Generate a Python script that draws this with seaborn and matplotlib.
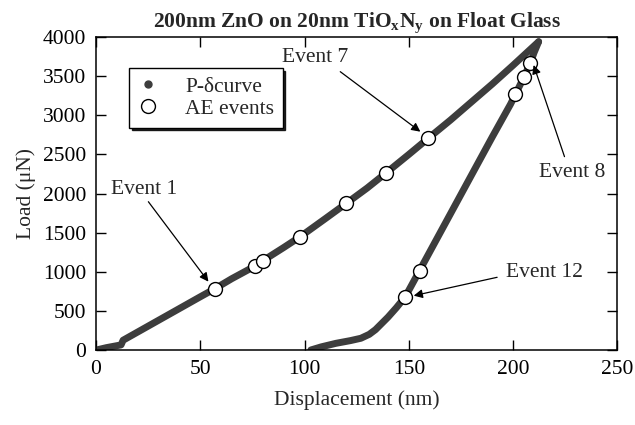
import matplotlib
matplotlib.use("Agg")
import matplotlib.pyplot as plt
from matplotlib.lines import Line2D
import seaborn as sns

# Load-displacement curve (loading branch), nm / uN
load_x = [0, 1, 5, 10, 12, 13, 20, 30, 40, 50, 57.1, 65, 76.3, 80, 90, 97.9,
          110, 120, 130, 139.2, 150, 159.4, 170, 180, 190, 200, 212.2]
load_y = [0, 5, 30, 55, 65, 125, 230, 380, 530, 680, 785, 910, 1073, 1141, 1310, 1448,
          1680, 1874, 2070, 2266, 2500, 2708, 2940, 3170, 3400, 3640, 3940]

# Unloading branch
unload_x = [212.2, 210, 208.3, 205.1, 201.1, 198.7, 190, 179.5, 170, 160, 155.1,
            148.3, 144, 140, 137, 134, 131, 127, 122, 115, 108, 103]
unload_y = [3940, 3800, 3672, 3485, 3268, 3140, 2724, 2210, 1744, 1254, 1014,
            681, 540, 420, 340, 260, 200, 150, 120, 85, 40, 0]

# Acoustic emission events
ae_x = [57.1, 76.3, 80.0, 97.9, 120.0, 139.2, 159.4, 148.3, 155.1, 201.1, 205.1, 208.3]
ae_y = [785, 1073, 1141, 1448, 1874, 2266, 2708, 681, 1014, 3268, 3485, 3672]

x_ticks = [0, 50, 100, 150, 200, 250]
y_ticks = [0, 500, 1000, 1500, 2000, 2500, 3000, 3500, 4000]

sns.set_theme(style="ticks")
plt.rcParams["font.family"] = ["Liberation Serif", "DejaVu Serif"]
plt.rcParams["mathtext.fontset"] = "custom"
plt.rcParams["mathtext.rm"] = "Liberation Serif"
plt.rcParams["mathtext.bf"] = "Liberation Serif:bold"

FS = 15.5
CURVE = "#3d3d3d"

fig = plt.figure(figsize=(6.35, 4.25), dpi=100)
ax = fig.add_axes([0.1512, 0.1765, 0.8212, 0.7364])

sns.lineplot(x=load_x, y=load_y, sort=False, estimator=None, ax=ax,
             color=CURVE, lw=5, solid_capstyle="round", solid_joinstyle="round", zorder=2)
sns.lineplot(x=unload_x, y=unload_y, sort=False, estimator=None, ax=ax,
             color=CURVE, lw=5, solid_capstyle="round", solid_joinstyle="round", zorder=2)
sns.scatterplot(x=ae_x, y=ae_y, ax=ax, s=100, facecolor="white",
                edgecolor="black", linewidth=1.0, zorder=3)

ax.set_xlim(0, 250)
ax.set_ylim(0, 4000)
ax.set_xticks(x_ticks)
ax.set_yticks(y_ticks)
for s in ax.spines.values():
    s.set_linewidth(1.1)
    s.set_color("black")
    s.set_visible(True)
ax.tick_params(direction="in", top=True, right=True, length=7, width=1,
               labelsize=FS, pad=7, colors="black")

ax.set_xlabel("Displacement (nm)", fontsize=FS, labelpad=8)
ax.set_ylabel("Load (\u03bcN)", fontsize=FS, labelpad=5)
ax.set_title(r"200nm ZnO on 20nm TiO$_{\mathbf{x}}$N$_{\mathbf{y}}$ on Float Glass",
             fontsize=15.5, fontweight="bold", pad=7)

arrow = dict(arrowstyle="-|>", color="black", lw=0.9, mutation_scale=13,
             shrinkA=0, shrinkB=0)
events = [
    ("Event 1", (23, 2055), (25.1, 1895), (53.9, 873)),
    ("Event 7", (105, 3740), (117.1, 3557), (155.5, 2790)),
    ("Event 8", (228.1, 2266), (224.6, 2471), (209.8, 3642)),
    ("Event 12", (214.8, 988), (192.3, 929), (152.3, 694)),
]
for label, txt, tail, head in events:
    ax.text(*txt, label, fontsize=FS, ha="center", va="center")
    ax.annotate("", xy=head, xytext=tail, arrowprops=arrow)

handles = [
    Line2D([], [], ls="none", marker="o", ms=5, color=CURVE),
    Line2D([], [], ls="none", marker="o", ms=10, mfc="white", mec="black", mew=1.0),
]
leg = ax.legend(handles, ["P-\u03b4curve", "AE events"], loc="upper left",
                bbox_to_anchor=(0.0633, 0.901), borderaxespad=0, fontsize=FS,
                frameon=True, fancybox=False, framealpha=1, edgecolor="black",
                shadow={"color": "black", "alpha": 0.85},
                handlelength=1.0, handletextpad=1.2, borderpad=0.4,
                labelspacing=0.1)
leg.get_frame().set_linewidth(1.0)

fig.savefig("out.png", dpi=100)
